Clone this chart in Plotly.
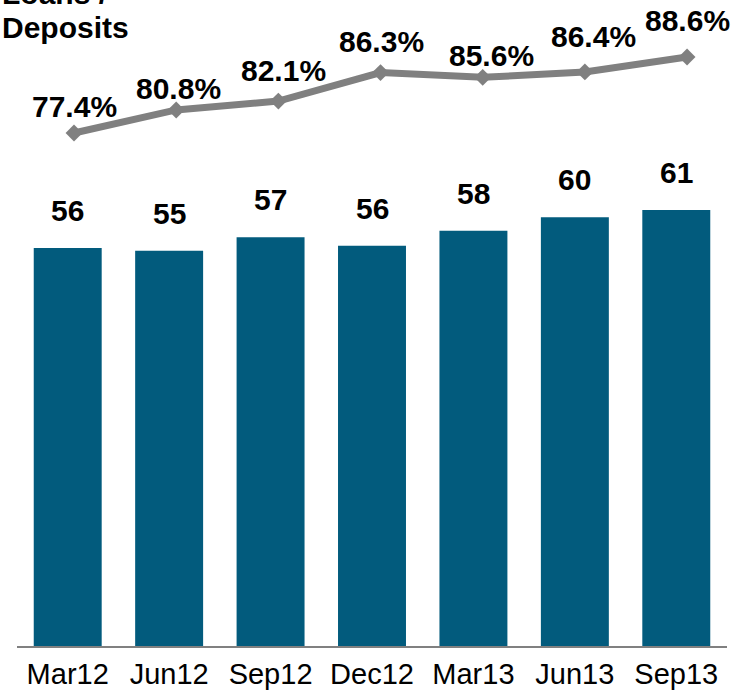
import plotly.graph_objects as go

categories = ["Mar12", "Jun12", "Sep12", "Dec12", "Mar13", "Jun13", "Sep13"]
loans_bn = [55.6, 55.2, 57.1, 55.9, 58.0, 59.9, 60.9]
ratio_pct = [77.4, 80.8, 82.1, 86.3, 85.6, 86.4, 88.6]

BAR_COLOR = "#025B7D"
LINE_COLOR = "#808080"
FONT = "Arial, Liberation Sans, sans-serif"

# label nudges (pixels) for the ratio labels
ratio_label_dy = [8, 3, 12, 13, 3, 17, 18]
ratio_label_dx = [0, 2, 5, 1, 9, 9, 0]

fig = go.Figure()
fig.add_trace(go.Bar(
    x=categories, y=loans_bn, marker_color=BAR_COLOR,
    marker_line_width=0, xaxis="x", yaxis="y", hoverinfo="skip",
))
fig.add_trace(go.Scatter(
    x=categories, y=ratio_pct, mode="lines+markers",
    line=dict(color=LINE_COLOR, width=7),
    marker=dict(symbol="diamond", size=13, color=LINE_COLOR),
    xaxis="x2", yaxis="y2", hoverinfo="skip", cliponaxis=False,
))

annotations = []
for c, v in zip(categories, loans_bn):
    annotations.append(dict(
        x=c, y=v, xref="x", yref="y", text=f"<b>{round(v)}</b>",
        showarrow=False, yanchor="bottom", yshift=19,
        font=dict(family=FONT, size=30, color="black"),
    ))
for c, v, dy, dx in zip(categories, ratio_pct, ratio_label_dy, ratio_label_dx):
    annotations.append(dict(
        x=c, y=v, xref="x2", yref="y2", text=f"<b>{v:.1f}%</b>",
        showarrow=False, yanchor="bottom", yshift=dy, xshift=dx,
        font=dict(family=FONT, size=30, color="black"),
    ))
annotations.append(dict(
    x=0, y=1.047, xref="paper", yref="paper", text="<b>Loans /</b>",
    showarrow=False, xanchor="left", yanchor="bottom", xshift=-17,
    font=dict(family=FONT, size=30, color="black"),
))
annotations.append(dict(
    x=0, y=0.990, xref="paper", yref="paper", text="<b>Deposits</b>",
    showarrow=False, xanchor="left", yanchor="bottom", xshift=-17,
    font=dict(family=FONT, size=30, color="black"),
))

fig.update_layout(
    width=744, height=691,
    margin=dict(l=17, r=17, t=40, b=45, autoexpand=False),
    paper_bgcolor="white", plot_bgcolor="white",
    showlegend=False, bargap=0.33,
    font=dict(family=FONT, color="black"),
    xaxis=dict(
        type="category", showline=True, linecolor="#808080", linewidth=2,
        ticks="", showgrid=False, zeroline=False, automargin=False,
        ticklabelstandoff=1,
        tickfont=dict(family=FONT, size=29, color="black"),
        range=[-0.5, 6.5],
    ),
    xaxis2=dict(
        type="category", overlaying="x", visible=False,
        range=[-0.558, 6.391],
    ),
    yaxis=dict(range=[0, 84.64], visible=False, showgrid=False, zeroline=False),
    yaxis2=dict(range=[1.85, 91.1], overlaying="y", visible=False,
                showgrid=False, zeroline=False),
    annotations=annotations,
)

fig.write_html(
    "out.html",
    config={"displayModeBar": False},
    post_script="document.body.style.margin='0';document.body.style.overflow='hidden';",
)
